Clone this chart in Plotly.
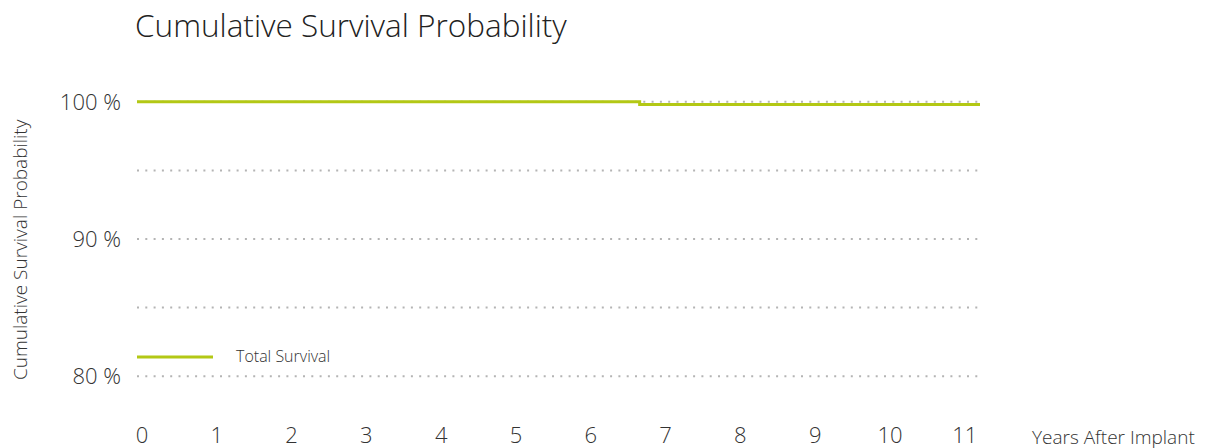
import plotly.graph_objects as go

years = [0, 6.72, 11.31]
survival = [100, 99.8, 99.8]
x_ticks = list(range(0, 12))
y_ticks = [80, 90, 100]
y_tick_labels = ["80 %", "90 %", "100 %"]
grid_vals = [80, 85, 90, 95, 100]

GREEN = "#b3c815"
FONT = "Open Sans"
TXT = "#333333"

# page offset (body margin) = 8px; plot area in page coords: x 137..980, y 95..383
def px(page_x):
    return (page_x - 137) / 843

def py(page_y):
    return (383 - page_y) / 288

fig = go.Figure()
fig.add_trace(go.Scatter(
    x=years, y=survival, mode="lines", line_shape="hv",
    line=dict(color=GREEN, width=3), name="Total Survival",
    showlegend=False, cliponaxis=False,
))

fig.update_layout(
    width=1200, height=440,
    margin=dict(l=129, r=228, t=87, b=65),
    paper_bgcolor="white", plot_bgcolor="white",
    font=dict(family=FONT, color=TXT),
    title=dict(text="Cumulative Survival Probability", x=127/1200, xanchor="left",
               y=1 - 18/440, yanchor="middle",
               font=dict(size=31.5, family=FONT, color="#222222", weight=300)),
    xaxis=dict(range=[0, 11.27], tickvals=x_ticks, showgrid=False, zeroline=False,
               showline=False, ticks="", automargin=False,
               tickfont=dict(size=22, color=TXT, weight=300),
               ticklabelstandoff=37, ticklabelshift=5),
    yaxis=dict(range=[79.5, 100.5], tickvals=y_ticks, ticktext=y_tick_labels,
               showgrid=False, zeroline=False, showline=False, ticks="", automargin=False,
               tickfont=dict(size=22, color=TXT, weight=300),
               ticklabelstandoff=15),
)

for g in grid_vals:
    fig.add_hline(y=g, line=dict(color="#b4b4b4", width=2, dash="2px,6.3px"), layer="below")

# legend sample
fig.add_shape(type="line", xref="paper", yref="y", x0=0, x1=px(213), y0=81.4, y1=81.4,
              line=dict(color=GREEN, width=3))
fig.add_annotation(text="Total Survival", xref="paper", yref="y", x=px(234), y=81.5,
                   xanchor="left", yanchor="middle", showarrow=False,
                   font=dict(size=16, color=TXT, weight=300))

fig.add_annotation(text="Years After Implant", xref="paper", yref="paper",
                   x=px(1030), y=py(437), xanchor="left", yanchor="middle",
                   showarrow=False, font=dict(size=19, color=TXT, weight=300))
fig.add_annotation(text="Cumulative Survival Probability", xref="paper", yref="paper",
                   x=px(20), y=py(250), xanchor="center", yanchor="middle",
                   textangle=-90, showarrow=False,
                   font=dict(size=19, color=TXT, weight=300))

fig.write_html("out.html")
